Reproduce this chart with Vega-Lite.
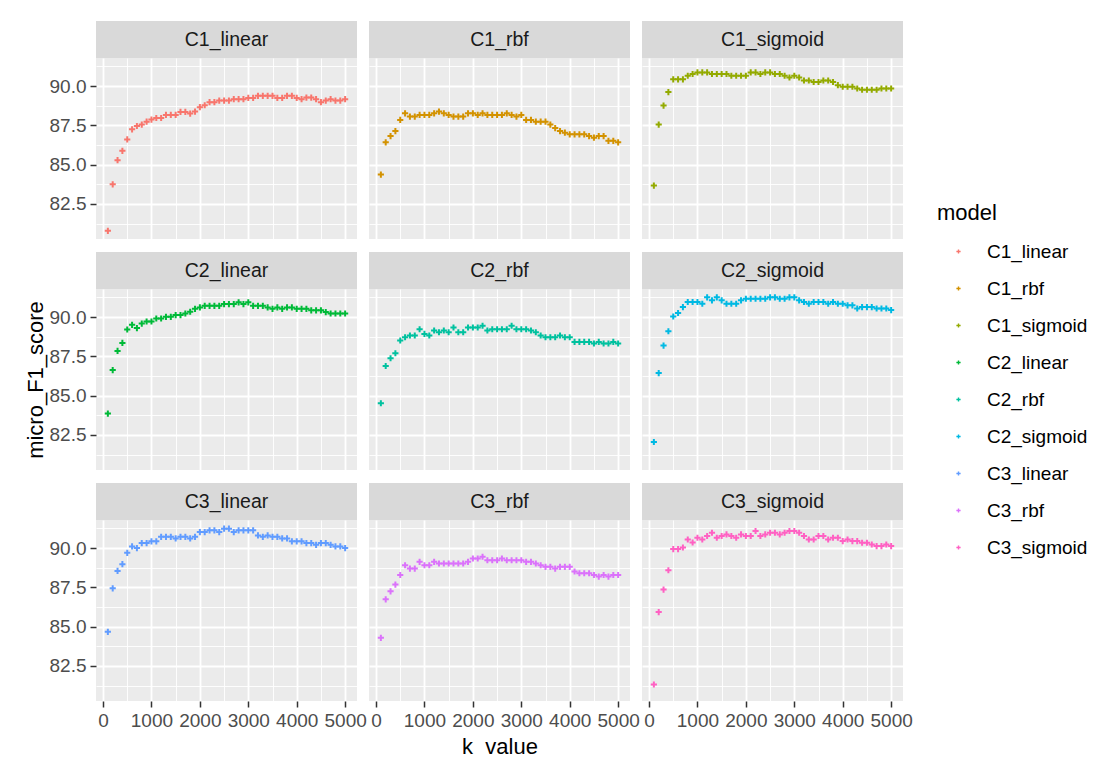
{
"$schema": "https://vega.github.io/schema/vega-lite/v6.json",
"padding": {"left": 24, "top": 21, "right": 0, "bottom": 0},
"datasets": {"scores": [
{"model":"C1_linear","k":100,"score":80.79},{"model":"C1_linear","k":200,"score":83.75},{"model":"C1_linear","k":300,"score":85.29},{"model":"C1_linear","k":400,"score":85.88},{"model":"C1_linear","k":500,"score":86.61},{"model":"C1_linear","k":600,"score":87.25},{"model":"C1_linear","k":700,"score":87.46},{"model":"C1_linear","k":800,"score":87.55},{"model":"C1_linear","k":900,"score":87.74},{"model":"C1_linear","k":1000,"score":87.87},
{"model":"C1_linear","k":1100,"score":87.97},{"model":"C1_linear","k":1200,"score":87.97},{"model":"C1_linear","k":1300,"score":88.17},{"model":"C1_linear","k":1400,"score":88.17},{"model":"C1_linear","k":1500,"score":88.17},{"model":"C1_linear","k":1600,"score":88.36},{"model":"C1_linear","k":1700,"score":88.36},{"model":"C1_linear","k":1800,"score":88.25},{"model":"C1_linear","k":1900,"score":88.38},{"model":"C1_linear","k":2000,"score":88.66},
{"model":"C1_linear","k":2100,"score":88.78},{"model":"C1_linear","k":2200,"score":88.98},{"model":"C1_linear","k":2300,"score":88.98},{"model":"C1_linear","k":2400,"score":89.08},{"model":"C1_linear","k":2500,"score":89.08},{"model":"C1_linear","k":2600,"score":89.08},{"model":"C1_linear","k":2700,"score":89.17},{"model":"C1_linear","k":2800,"score":89.17},{"model":"C1_linear","k":2900,"score":89.17},{"model":"C1_linear","k":3000,"score":89.25},
{"model":"C1_linear","k":3100,"score":89.25},{"model":"C1_linear","k":3200,"score":89.38},{"model":"C1_linear","k":3300,"score":89.38},{"model":"C1_linear","k":3400,"score":89.38},{"model":"C1_linear","k":3500,"score":89.38},{"model":"C1_linear","k":3600,"score":89.25},{"model":"C1_linear","k":3700,"score":89.25},{"model":"C1_linear","k":3800,"score":89.38},{"model":"C1_linear","k":3900,"score":89.38},{"model":"C1_linear","k":4000,"score":89.25},
{"model":"C1_linear","k":4100,"score":89.17},{"model":"C1_linear","k":4200,"score":89.27},{"model":"C1_linear","k":4300,"score":89.27},{"model":"C1_linear","k":4400,"score":89.17},{"model":"C1_linear","k":4500,"score":88.98},{"model":"C1_linear","k":4600,"score":89.08},{"model":"C1_linear","k":4700,"score":89.17},{"model":"C1_linear","k":4800,"score":89.08},{"model":"C1_linear","k":4900,"score":89.08},{"model":"C1_linear","k":5000,"score":89.17},
{"model":"C1_rbf","k":100,"score":84.37},{"model":"C1_rbf","k":200,"score":86.42},{"model":"C1_rbf","k":300,"score":86.82},{"model":"C1_rbf","k":400,"score":87.14},{"model":"C1_rbf","k":500,"score":87.85},{"model":"C1_rbf","k":600,"score":88.27},{"model":"C1_rbf","k":700,"score":88.06},{"model":"C1_rbf","k":800,"score":88.06},{"model":"C1_rbf","k":900,"score":88.17},{"model":"C1_rbf","k":1000,"score":88.17},
{"model":"C1_rbf","k":1100,"score":88.17},{"model":"C1_rbf","k":1200,"score":88.27},{"model":"C1_rbf","k":1300,"score":88.38},{"model":"C1_rbf","k":1400,"score":88.27},{"model":"C1_rbf","k":1500,"score":88.17},{"model":"C1_rbf","k":1600,"score":88.06},{"model":"C1_rbf","k":1700,"score":88.06},{"model":"C1_rbf","k":1800,"score":88.06},{"model":"C1_rbf","k":1900,"score":88.27},{"model":"C1_rbf","k":2000,"score":88.27},
{"model":"C1_rbf","k":2100,"score":88.17},{"model":"C1_rbf","k":2200,"score":88.27},{"model":"C1_rbf","k":2300,"score":88.17},{"model":"C1_rbf","k":2400,"score":88.17},{"model":"C1_rbf","k":2500,"score":88.17},{"model":"C1_rbf","k":2600,"score":88.17},{"model":"C1_rbf","k":2700,"score":88.27},{"model":"C1_rbf","k":2800,"score":88.17},{"model":"C1_rbf","k":2900,"score":88.06},{"model":"C1_rbf","k":3000,"score":88.17},
{"model":"C1_rbf","k":3100,"score":87.85},{"model":"C1_rbf","k":3200,"score":87.85},{"model":"C1_rbf","k":3300,"score":87.74},{"model":"C1_rbf","k":3400,"score":87.74},{"model":"C1_rbf","k":3500,"score":87.74},{"model":"C1_rbf","k":3600,"score":87.55},{"model":"C1_rbf","k":3700,"score":87.33},{"model":"C1_rbf","k":3800,"score":87.14},{"model":"C1_rbf","k":3900,"score":87.04},{"model":"C1_rbf","k":4000,"score":86.93},
{"model":"C1_rbf","k":4100,"score":86.93},{"model":"C1_rbf","k":4200,"score":86.93},{"model":"C1_rbf","k":4300,"score":86.93},{"model":"C1_rbf","k":4400,"score":86.82},{"model":"C1_rbf","k":4500,"score":86.72},{"model":"C1_rbf","k":4600,"score":86.82},{"model":"C1_rbf","k":4700,"score":86.82},{"model":"C1_rbf","k":4800,"score":86.52},{"model":"C1_rbf","k":4900,"score":86.52},{"model":"C1_rbf","k":5000,"score":86.42},
{"model":"C1_sigmoid","k":100,"score":83.67},{"model":"C1_sigmoid","k":200,"score":87.55},{"model":"C1_sigmoid","k":300,"score":88.76},{"model":"C1_sigmoid","k":400,"score":89.62},{"model":"C1_sigmoid","k":500,"score":90.43},{"model":"C1_sigmoid","k":600,"score":90.43},{"model":"C1_sigmoid","k":700,"score":90.43},{"model":"C1_sigmoid","k":800,"score":90.66},{"model":"C1_sigmoid","k":900,"score":90.77},{"model":"C1_sigmoid","k":1000,"score":90.87},
{"model":"C1_sigmoid","k":1100,"score":90.87},{"model":"C1_sigmoid","k":1200,"score":90.87},{"model":"C1_sigmoid","k":1300,"score":90.77},{"model":"C1_sigmoid","k":1400,"score":90.77},{"model":"C1_sigmoid","k":1500,"score":90.77},{"model":"C1_sigmoid","k":1600,"score":90.77},{"model":"C1_sigmoid","k":1700,"score":90.66},{"model":"C1_sigmoid","k":1800,"score":90.66},{"model":"C1_sigmoid","k":1900,"score":90.66},{"model":"C1_sigmoid","k":2000,"score":90.66},
{"model":"C1_sigmoid","k":2100,"score":90.87},{"model":"C1_sigmoid","k":2200,"score":90.87},{"model":"C1_sigmoid","k":2300,"score":90.77},{"model":"C1_sigmoid","k":2400,"score":90.87},{"model":"C1_sigmoid","k":2500,"score":90.87},{"model":"C1_sigmoid","k":2600,"score":90.77},{"model":"C1_sigmoid","k":2700,"score":90.77},{"model":"C1_sigmoid","k":2800,"score":90.66},{"model":"C1_sigmoid","k":2900,"score":90.55},{"model":"C1_sigmoid","k":3000,"score":90.66},
{"model":"C1_sigmoid","k":3100,"score":90.55},{"model":"C1_sigmoid","k":3200,"score":90.36},{"model":"C1_sigmoid","k":3300,"score":90.36},{"model":"C1_sigmoid","k":3400,"score":90.26},{"model":"C1_sigmoid","k":3500,"score":90.26},{"model":"C1_sigmoid","k":3600,"score":90.36},{"model":"C1_sigmoid","k":3700,"score":90.36},{"model":"C1_sigmoid","k":3800,"score":90.26},{"model":"C1_sigmoid","k":3900,"score":90.06},{"model":"C1_sigmoid","k":4000,"score":89.96},
{"model":"C1_sigmoid","k":4100,"score":89.96},{"model":"C1_sigmoid","k":4200,"score":89.96},{"model":"C1_sigmoid","k":4300,"score":89.85},{"model":"C1_sigmoid","k":4400,"score":89.77},{"model":"C1_sigmoid","k":4500,"score":89.77},{"model":"C1_sigmoid","k":4600,"score":89.77},{"model":"C1_sigmoid","k":4700,"score":89.77},{"model":"C1_sigmoid","k":4800,"score":89.85},{"model":"C1_sigmoid","k":4900,"score":89.85},{"model":"C1_sigmoid","k":5000,"score":89.85},
{"model":"C2_linear","k":100,"score":83.86},{"model":"C2_linear","k":200,"score":86.63},{"model":"C2_linear","k":300,"score":87.85},{"model":"C2_linear","k":400,"score":88.36},{"model":"C2_linear","k":500,"score":89.21},{"model":"C2_linear","k":600,"score":89.51},{"model":"C2_linear","k":700,"score":89.30},{"model":"C2_linear","k":800,"score":89.59},{"model":"C2_linear","k":900,"score":89.72},{"model":"C2_linear","k":1000,"score":89.72},
{"model":"C2_linear","k":1100,"score":89.91},{"model":"C2_linear","k":1200,"score":89.91},{"model":"C2_linear","k":1300,"score":90.02},{"model":"C2_linear","k":1400,"score":90.02},{"model":"C2_linear","k":1500,"score":90.13},{"model":"C2_linear","k":1600,"score":90.13},{"model":"C2_linear","k":1700,"score":90.23},{"model":"C2_linear","k":1800,"score":90.34},{"model":"C2_linear","k":1900,"score":90.53},{"model":"C2_linear","k":2000,"score":90.62},
{"model":"C2_linear","k":2100,"score":90.72},{"model":"C2_linear","k":2200,"score":90.72},{"model":"C2_linear","k":2300,"score":90.72},{"model":"C2_linear","k":2400,"score":90.72},{"model":"C2_linear","k":2500,"score":90.83},{"model":"C2_linear","k":2600,"score":90.83},{"model":"C2_linear","k":2700,"score":90.83},{"model":"C2_linear","k":2800,"score":90.94},{"model":"C2_linear","k":2900,"score":90.83},{"model":"C2_linear","k":3000,"score":90.94},
{"model":"C2_linear","k":3100,"score":90.72},{"model":"C2_linear","k":3200,"score":90.72},{"model":"C2_linear","k":3300,"score":90.72},{"model":"C2_linear","k":3400,"score":90.62},{"model":"C2_linear","k":3500,"score":90.53},{"model":"C2_linear","k":3600,"score":90.62},{"model":"C2_linear","k":3700,"score":90.53},{"model":"C2_linear","k":3800,"score":90.62},{"model":"C2_linear","k":3900,"score":90.62},{"model":"C2_linear","k":4000,"score":90.53},
{"model":"C2_linear","k":4100,"score":90.53},{"model":"C2_linear","k":4200,"score":90.53},{"model":"C2_linear","k":4300,"score":90.43},{"model":"C2_linear","k":4400,"score":90.43},{"model":"C2_linear","k":4500,"score":90.43},{"model":"C2_linear","k":4600,"score":90.32},{"model":"C2_linear","k":4700,"score":90.23},{"model":"C2_linear","k":4800,"score":90.23},{"model":"C2_linear","k":4900,"score":90.23},{"model":"C2_linear","k":5000,"score":90.23},
{"model":"C2_rbf","k":100,"score":84.52},{"model":"C2_rbf","k":200,"score":86.89},{"model":"C2_rbf","k":300,"score":87.38},{"model":"C2_rbf","k":400,"score":87.70},{"model":"C2_rbf","k":500,"score":88.51},{"model":"C2_rbf","k":600,"score":88.72},{"model":"C2_rbf","k":700,"score":88.83},{"model":"C2_rbf","k":800,"score":88.83},{"model":"C2_rbf","k":900,"score":89.23},{"model":"C2_rbf","k":1000,"score":88.93},
{"model":"C2_rbf","k":1100,"score":88.83},{"model":"C2_rbf","k":1200,"score":89.15},{"model":"C2_rbf","k":1300,"score":89.04},{"model":"C2_rbf","k":1400,"score":89.15},{"model":"C2_rbf","k":1500,"score":89.04},{"model":"C2_rbf","k":1600,"score":89.34},{"model":"C2_rbf","k":1700,"score":89.04},{"model":"C2_rbf","k":1800,"score":89.04},{"model":"C2_rbf","k":1900,"score":89.34},{"model":"C2_rbf","k":2000,"score":89.34},
{"model":"C2_rbf","k":2100,"score":89.34},{"model":"C2_rbf","k":2200,"score":89.45},{"model":"C2_rbf","k":2300,"score":89.15},{"model":"C2_rbf","k":2400,"score":89.23},{"model":"C2_rbf","k":2500,"score":89.23},{"model":"C2_rbf","k":2600,"score":89.23},{"model":"C2_rbf","k":2700,"score":89.23},{"model":"C2_rbf","k":2800,"score":89.45},{"model":"C2_rbf","k":2900,"score":89.23},{"model":"C2_rbf","k":3000,"score":89.23},
{"model":"C2_rbf","k":3100,"score":89.23},{"model":"C2_rbf","k":3200,"score":89.15},{"model":"C2_rbf","k":3300,"score":89.04},{"model":"C2_rbf","k":3400,"score":88.83},{"model":"C2_rbf","k":3500,"score":88.72},{"model":"C2_rbf","k":3600,"score":88.72},{"model":"C2_rbf","k":3700,"score":88.72},{"model":"C2_rbf","k":3800,"score":88.83},{"model":"C2_rbf","k":3900,"score":88.72},{"model":"C2_rbf","k":4000,"score":88.72},
{"model":"C2_rbf","k":4100,"score":88.42},{"model":"C2_rbf","k":4200,"score":88.42},{"model":"C2_rbf","k":4300,"score":88.42},{"model":"C2_rbf","k":4400,"score":88.42},{"model":"C2_rbf","k":4500,"score":88.32},{"model":"C2_rbf","k":4600,"score":88.42},{"model":"C2_rbf","k":4700,"score":88.32},{"model":"C2_rbf","k":4800,"score":88.32},{"model":"C2_rbf","k":4900,"score":88.42},{"model":"C2_rbf","k":5000,"score":88.32},
{"model":"C2_sigmoid","k":100,"score":82.05},{"model":"C2_sigmoid","k":200,"score":86.44},{"model":"C2_sigmoid","k":300,"score":88.19},{"model":"C2_sigmoid","k":400,"score":89.10},{"model":"C2_sigmoid","k":500,"score":90.04},{"model":"C2_sigmoid","k":600,"score":90.26},{"model":"C2_sigmoid","k":700,"score":90.64},{"model":"C2_sigmoid","k":800,"score":90.96},{"model":"C2_sigmoid","k":900,"score":90.96},{"model":"C2_sigmoid","k":1000,"score":90.96},
{"model":"C2_sigmoid","k":1100,"score":90.85},{"model":"C2_sigmoid","k":1200,"score":91.26},{"model":"C2_sigmoid","k":1300,"score":91.07},{"model":"C2_sigmoid","k":1400,"score":91.26},{"model":"C2_sigmoid","k":1500,"score":91.07},{"model":"C2_sigmoid","k":1600,"score":90.85},{"model":"C2_sigmoid","k":1700,"score":90.85},{"model":"C2_sigmoid","k":1800,"score":90.85},{"model":"C2_sigmoid","k":1900,"score":91.07},{"model":"C2_sigmoid","k":2000,"score":91.17},
{"model":"C2_sigmoid","k":2100,"score":91.17},{"model":"C2_sigmoid","k":2200,"score":91.17},{"model":"C2_sigmoid","k":2300,"score":91.17},{"model":"C2_sigmoid","k":2400,"score":91.17},{"model":"C2_sigmoid","k":2500,"score":91.26},{"model":"C2_sigmoid","k":2600,"score":91.26},{"model":"C2_sigmoid","k":2700,"score":91.17},{"model":"C2_sigmoid","k":2800,"score":91.17},{"model":"C2_sigmoid","k":2900,"score":91.26},{"model":"C2_sigmoid","k":3000,"score":91.26},
{"model":"C2_sigmoid","k":3100,"score":91.07},{"model":"C2_sigmoid","k":3200,"score":90.96},{"model":"C2_sigmoid","k":3300,"score":90.85},{"model":"C2_sigmoid","k":3400,"score":90.96},{"model":"C2_sigmoid","k":3500,"score":90.96},{"model":"C2_sigmoid","k":3600,"score":90.96},{"model":"C2_sigmoid","k":3700,"score":90.85},{"model":"C2_sigmoid","k":3800,"score":90.96},{"model":"C2_sigmoid","k":3900,"score":90.85},{"model":"C2_sigmoid","k":4000,"score":90.85},
{"model":"C2_sigmoid","k":4100,"score":90.75},{"model":"C2_sigmoid","k":4200,"score":90.75},{"model":"C2_sigmoid","k":4300,"score":90.55},{"model":"C2_sigmoid","k":4400,"score":90.64},{"model":"C2_sigmoid","k":4500,"score":90.64},{"model":"C2_sigmoid","k":4600,"score":90.64},{"model":"C2_sigmoid","k":4700,"score":90.55},{"model":"C2_sigmoid","k":4800,"score":90.55},{"model":"C2_sigmoid","k":4900,"score":90.55},{"model":"C2_sigmoid","k":5000,"score":90.45},
{"model":"C3_linear","k":100,"score":84.67},{"model":"C3_linear","k":200,"score":87.44},{"model":"C3_linear","k":300,"score":88.55},{"model":"C3_linear","k":400,"score":88.98},{"model":"C3_linear","k":500,"score":89.70},{"model":"C3_linear","k":600,"score":90.11},{"model":"C3_linear","k":700,"score":90.00},{"model":"C3_linear","k":800,"score":90.32},{"model":"C3_linear","k":900,"score":90.32},{"model":"C3_linear","k":1000,"score":90.43},
{"model":"C3_linear","k":1100,"score":90.43},{"model":"C3_linear","k":1200,"score":90.72},{"model":"C3_linear","k":1300,"score":90.72},{"model":"C3_linear","k":1400,"score":90.72},{"model":"C3_linear","k":1500,"score":90.62},{"model":"C3_linear","k":1600,"score":90.72},{"model":"C3_linear","k":1700,"score":90.72},{"model":"C3_linear","k":1800,"score":90.62},{"model":"C3_linear","k":1900,"score":90.72},{"model":"C3_linear","k":2000,"score":91.02},
{"model":"C3_linear","k":2100,"score":91.02},{"model":"C3_linear","k":2200,"score":91.13},{"model":"C3_linear","k":2300,"score":91.13},{"model":"C3_linear","k":2400,"score":91.02},{"model":"C3_linear","k":2500,"score":91.24},{"model":"C3_linear","k":2600,"score":91.24},{"model":"C3_linear","k":2700,"score":91.02},{"model":"C3_linear","k":2800,"score":91.13},{"model":"C3_linear","k":2900,"score":91.13},{"model":"C3_linear","k":3000,"score":91.13},
{"model":"C3_linear","k":3100,"score":91.13},{"model":"C3_linear","k":3200,"score":90.81},{"model":"C3_linear","k":3300,"score":90.72},{"model":"C3_linear","k":3400,"score":90.81},{"model":"C3_linear","k":3500,"score":90.72},{"model":"C3_linear","k":3600,"score":90.72},{"model":"C3_linear","k":3700,"score":90.62},{"model":"C3_linear","k":3800,"score":90.62},{"model":"C3_linear","k":3900,"score":90.43},{"model":"C3_linear","k":4000,"score":90.43},
{"model":"C3_linear","k":4100,"score":90.43},{"model":"C3_linear","k":4200,"score":90.32},{"model":"C3_linear","k":4300,"score":90.32},{"model":"C3_linear","k":4400,"score":90.21},{"model":"C3_linear","k":4500,"score":90.32},{"model":"C3_linear","k":4600,"score":90.32},{"model":"C3_linear","k":4700,"score":90.21},{"model":"C3_linear","k":4800,"score":90.11},{"model":"C3_linear","k":4900,"score":90.11},{"model":"C3_linear","k":5000,"score":90.00},
{"model":"C3_rbf","k":100,"score":84.29},{"model":"C3_rbf","k":200,"score":86.74},{"model":"C3_rbf","k":300,"score":87.25},{"model":"C3_rbf","k":400,"score":87.68},{"model":"C3_rbf","k":500,"score":88.29},{"model":"C3_rbf","k":600,"score":88.91},{"model":"C3_rbf","k":700,"score":88.70},{"model":"C3_rbf","k":800,"score":88.70},{"model":"C3_rbf","k":900,"score":89.13},{"model":"C3_rbf","k":1000,"score":88.91},
{"model":"C3_rbf","k":1100,"score":88.91},{"model":"C3_rbf","k":1200,"score":89.13},{"model":"C3_rbf","k":1300,"score":89.02},{"model":"C3_rbf","k":1400,"score":89.02},{"model":"C3_rbf","k":1500,"score":89.02},{"model":"C3_rbf","k":1600,"score":89.02},{"model":"C3_rbf","k":1700,"score":89.02},{"model":"C3_rbf","k":1800,"score":89.02},{"model":"C3_rbf","k":1900,"score":89.13},{"model":"C3_rbf","k":2000,"score":89.34},
{"model":"C3_rbf","k":2100,"score":89.34},{"model":"C3_rbf","k":2200,"score":89.45},{"model":"C3_rbf","k":2300,"score":89.23},{"model":"C3_rbf","k":2400,"score":89.23},{"model":"C3_rbf","k":2500,"score":89.23},{"model":"C3_rbf","k":2600,"score":89.34},{"model":"C3_rbf","k":2700,"score":89.23},{"model":"C3_rbf","k":2800,"score":89.23},{"model":"C3_rbf","k":2900,"score":89.23},{"model":"C3_rbf","k":3000,"score":89.23},
{"model":"C3_rbf","k":3100,"score":89.13},{"model":"C3_rbf","k":3200,"score":89.13},{"model":"C3_rbf","k":3300,"score":89.02},{"model":"C3_rbf","k":3400,"score":88.91},{"model":"C3_rbf","k":3500,"score":88.81},{"model":"C3_rbf","k":3600,"score":88.81},{"model":"C3_rbf","k":3700,"score":88.70},{"model":"C3_rbf","k":3800,"score":88.81},{"model":"C3_rbf","k":3900,"score":88.81},{"model":"C3_rbf","k":4000,"score":88.81},
{"model":"C3_rbf","k":4100,"score":88.51},{"model":"C3_rbf","k":4200,"score":88.40},{"model":"C3_rbf","k":4300,"score":88.40},{"model":"C3_rbf","k":4400,"score":88.40},{"model":"C3_rbf","k":4500,"score":88.29},{"model":"C3_rbf","k":4600,"score":88.19},{"model":"C3_rbf","k":4700,"score":88.29},{"model":"C3_rbf","k":4800,"score":88.19},{"model":"C3_rbf","k":4900,"score":88.29},{"model":"C3_rbf","k":5000,"score":88.29},
{"model":"C3_sigmoid","k":100,"score":81.32},{"model":"C3_sigmoid","k":200,"score":85.93},{"model":"C3_sigmoid","k":300,"score":87.36},{"model":"C3_sigmoid","k":400,"score":88.59},{"model":"C3_sigmoid","k":500,"score":89.94},{"model":"C3_sigmoid","k":600,"score":89.94},{"model":"C3_sigmoid","k":700,"score":90.04},{"model":"C3_sigmoid","k":800,"score":90.55},{"model":"C3_sigmoid","k":900,"score":90.36},{"model":"C3_sigmoid","k":1000,"score":90.66},
{"model":"C3_sigmoid","k":1100,"score":90.55},{"model":"C3_sigmoid","k":1200,"score":90.77},{"model":"C3_sigmoid","k":1300,"score":90.98},{"model":"C3_sigmoid","k":1400,"score":90.66},{"model":"C3_sigmoid","k":1500,"score":90.77},{"model":"C3_sigmoid","k":1600,"score":90.87},{"model":"C3_sigmoid","k":1700,"score":90.77},{"model":"C3_sigmoid","k":1800,"score":90.66},{"model":"C3_sigmoid","k":1900,"score":90.87},{"model":"C3_sigmoid","k":2000,"score":90.77},
{"model":"C3_sigmoid","k":2100,"score":90.77},{"model":"C3_sigmoid","k":2200,"score":91.09},{"model":"C3_sigmoid","k":2300,"score":90.77},{"model":"C3_sigmoid","k":2400,"score":90.87},{"model":"C3_sigmoid","k":2500,"score":90.98},{"model":"C3_sigmoid","k":2600,"score":90.98},{"model":"C3_sigmoid","k":2700,"score":90.87},{"model":"C3_sigmoid","k":2800,"score":90.98},{"model":"C3_sigmoid","k":2900,"score":91.09},{"model":"C3_sigmoid","k":3000,"score":91.09},
{"model":"C3_sigmoid","k":3100,"score":90.98},{"model":"C3_sigmoid","k":3200,"score":90.77},{"model":"C3_sigmoid","k":3300,"score":90.55},{"model":"C3_sigmoid","k":3400,"score":90.55},{"model":"C3_sigmoid","k":3500,"score":90.77},{"model":"C3_sigmoid","k":3600,"score":90.77},{"model":"C3_sigmoid","k":3700,"score":90.55},{"model":"C3_sigmoid","k":3800,"score":90.66},{"model":"C3_sigmoid","k":3900,"score":90.66},{"model":"C3_sigmoid","k":4000,"score":90.45},
{"model":"C3_sigmoid","k":4100,"score":90.55},{"model":"C3_sigmoid","k":4200,"score":90.45},{"model":"C3_sigmoid","k":4300,"score":90.45},{"model":"C3_sigmoid","k":4400,"score":90.34},{"model":"C3_sigmoid","k":4500,"score":90.34},{"model":"C3_sigmoid","k":4600,"score":90.23},{"model":"C3_sigmoid","k":4700,"score":90.13},{"model":"C3_sigmoid","k":4800,"score":90.13},{"model":"C3_sigmoid","k":4900,"score":90.23},{"model":"C3_sigmoid","k":5000,"score":90.13}
]},
"columns": 3,
"spacing": {"row": 13, "column": 2},
"concat": [
{"vconcat": [
 {"data": {"name": "scores"}, "transform": [{"filter": "datum.model === 'C1_linear'"}, {"aggregate": [{"op": "count", "as": "n"}], "groupby": ["model"]}], "width": 261, "height": 37, "view": {"fill": "#D9D9D9", "stroke": null}, "mark": {"type": "text", "fontSize": 19.5, "color": "#1A1A1A"}, "encoding": {"text": {"field": "model"}}},
 {"data": {"name": "scores"}, "transform": [{"filter": "datum.model === 'C1_linear'"}], "width": 261, "height": 181,
  "mark": {"type": "point", "shape": "M-1,0H1M0,-1V1", "filled": false, "strokeWidth": 2, "size": 38, "opacity": 1},
  "encoding": {
   "x": {"field": "k", "type": "quantitative", "scale": {"domain": [-145, 5245], "nice": false, "zero": false}, "axis": {"values": [0,500,1000,1500,2000,2500,3000,3500,4000,4500,5000], "labels": false, "ticks": false, "title": null, "gridWidth": {"condition": {"test": "datum.value % 1000 === 0", "value": 1.8}, "value": 0.9}}},
   "y": {"field": "score", "type": "quantitative", "scale": {"domain": [80.27, 91.79], "nice": false, "zero": false}, "axis": {"values": [81.25,82.5,83.75,85,86.25,87.5,88.75,90,91.25], "format": ".1f", "title": null, "labelExpr": "datum.value % 2.5 === 0 ? datum.label : ''", "tickOpacity": {"condition": {"test": "datum.value % 2.5 === 0", "value": 1}, "value": 0}, "gridWidth": {"condition": {"test": "datum.value % 2.5 === 0", "value": 1.8}, "value": 0.9}}},
   "color": {"field": "model", "type": "nominal", "legend": {"orient": "none", "legendX": 841, "legendY": 182, "title": "model"}}}}
 ], "spacing": 0, "bounds": "flush"},
{"vconcat": [
 {"data": {"name": "scores"}, "transform": [{"filter": "datum.model === 'C1_rbf'"}, {"aggregate": [{"op": "count", "as": "n"}], "groupby": ["model"]}], "width": 261, "height": 37, "view": {"fill": "#D9D9D9", "stroke": null}, "mark": {"type": "text", "fontSize": 19.5, "color": "#1A1A1A"}, "encoding": {"text": {"field": "model"}}},
 {"data": {"name": "scores"}, "transform": [{"filter": "datum.model === 'C1_rbf'"}], "width": 261, "height": 181,
  "mark": {"type": "point", "shape": "M-1,0H1M0,-1V1", "filled": false, "strokeWidth": 2, "size": 38, "opacity": 1},
  "encoding": {
   "x": {"field": "k", "type": "quantitative", "scale": {"domain": [-145, 5245], "nice": false, "zero": false}, "axis": {"values": [0,500,1000,1500,2000,2500,3000,3500,4000,4500,5000], "labels": false, "ticks": false, "title": null, "gridWidth": {"condition": {"test": "datum.value % 1000 === 0", "value": 1.8}, "value": 0.9}}},
   "y": {"field": "score", "type": "quantitative", "scale": {"domain": [80.27, 91.79], "nice": false, "zero": false}, "axis": {"values": [81.25,82.5,83.75,85,86.25,87.5,88.75,90,91.25], "labels": false, "ticks": false, "title": null, "gridWidth": {"condition": {"test": "datum.value % 2.5 === 0", "value": 1.8}, "value": 0.9}}},
   "color": {"field": "model", "type": "nominal", "legend": {"orient": "none", "legendX": 841, "legendY": 182, "title": "model"}}}}
 ], "spacing": 0, "bounds": "flush"},
{"vconcat": [
 {"data": {"name": "scores"}, "transform": [{"filter": "datum.model === 'C1_sigmoid'"}, {"aggregate": [{"op": "count", "as": "n"}], "groupby": ["model"]}], "width": 261, "height": 37, "view": {"fill": "#D9D9D9", "stroke": null}, "mark": {"type": "text", "fontSize": 19.5, "color": "#1A1A1A"}, "encoding": {"text": {"field": "model"}}},
 {"data": {"name": "scores"}, "transform": [{"filter": "datum.model === 'C1_sigmoid'"}], "width": 261, "height": 181,
  "mark": {"type": "point", "shape": "M-1,0H1M0,-1V1", "filled": false, "strokeWidth": 2, "size": 38, "opacity": 1},
  "encoding": {
   "x": {"field": "k", "type": "quantitative", "scale": {"domain": [-145, 5245], "nice": false, "zero": false}, "axis": {"values": [0,500,1000,1500,2000,2500,3000,3500,4000,4500,5000], "labels": false, "ticks": false, "title": null, "gridWidth": {"condition": {"test": "datum.value % 1000 === 0", "value": 1.8}, "value": 0.9}}},
   "y": {"field": "score", "type": "quantitative", "scale": {"domain": [80.27, 91.79], "nice": false, "zero": false}, "axis": {"values": [81.25,82.5,83.75,85,86.25,87.5,88.75,90,91.25], "labels": false, "ticks": false, "title": null, "gridWidth": {"condition": {"test": "datum.value % 2.5 === 0", "value": 1.8}, "value": 0.9}}},
   "color": {"field": "model", "type": "nominal", "legend": {"orient": "none", "legendX": 841, "legendY": 182, "title": "model"}}}}
 ], "spacing": 0, "bounds": "flush"},
{"vconcat": [
 {"data": {"name": "scores"}, "transform": [{"filter": "datum.model === 'C2_linear'"}, {"aggregate": [{"op": "count", "as": "n"}], "groupby": ["model"]}], "width": 261, "height": 37, "view": {"fill": "#D9D9D9", "stroke": null}, "mark": {"type": "text", "fontSize": 19.5, "color": "#1A1A1A"}, "encoding": {"text": {"field": "model"}}},
 {"data": {"name": "scores"}, "transform": [{"filter": "datum.model === 'C2_linear'"}], "width": 261, "height": 181,
  "mark": {"type": "point", "shape": "M-1,0H1M0,-1V1", "filled": false, "strokeWidth": 2, "size": 38, "opacity": 1},
  "encoding": {
   "x": {"field": "k", "type": "quantitative", "scale": {"domain": [-145, 5245], "nice": false, "zero": false}, "axis": {"values": [0,500,1000,1500,2000,2500,3000,3500,4000,4500,5000], "labels": false, "ticks": false, "title": null, "gridWidth": {"condition": {"test": "datum.value % 1000 === 0", "value": 1.8}, "value": 0.9}}},
   "y": {"field": "score", "type": "quantitative", "scale": {"domain": [80.27, 91.79], "nice": false, "zero": false}, "axis": {"values": [81.25,82.5,83.75,85,86.25,87.5,88.75,90,91.25], "format": ".1f", "title": "micro_F1_score", "labelExpr": "datum.value % 2.5 === 0 ? datum.label : ''", "tickOpacity": {"condition": {"test": "datum.value % 2.5 === 0", "value": 1}, "value": 0}, "gridWidth": {"condition": {"test": "datum.value % 2.5 === 0", "value": 1.8}, "value": 0.9}}},
   "color": {"field": "model", "type": "nominal", "legend": {"orient": "none", "legendX": 841, "legendY": 182, "title": "model"}}}}
 ], "spacing": 0, "bounds": "flush"},
{"vconcat": [
 {"data": {"name": "scores"}, "transform": [{"filter": "datum.model === 'C2_rbf'"}, {"aggregate": [{"op": "count", "as": "n"}], "groupby": ["model"]}], "width": 261, "height": 37, "view": {"fill": "#D9D9D9", "stroke": null}, "mark": {"type": "text", "fontSize": 19.5, "color": "#1A1A1A"}, "encoding": {"text": {"field": "model"}}},
 {"data": {"name": "scores"}, "transform": [{"filter": "datum.model === 'C2_rbf'"}], "width": 261, "height": 181,
  "mark": {"type": "point", "shape": "M-1,0H1M0,-1V1", "filled": false, "strokeWidth": 2, "size": 38, "opacity": 1},
  "encoding": {
   "x": {"field": "k", "type": "quantitative", "scale": {"domain": [-145, 5245], "nice": false, "zero": false}, "axis": {"values": [0,500,1000,1500,2000,2500,3000,3500,4000,4500,5000], "labels": false, "ticks": false, "title": null, "gridWidth": {"condition": {"test": "datum.value % 1000 === 0", "value": 1.8}, "value": 0.9}}},
   "y": {"field": "score", "type": "quantitative", "scale": {"domain": [80.27, 91.79], "nice": false, "zero": false}, "axis": {"values": [81.25,82.5,83.75,85,86.25,87.5,88.75,90,91.25], "labels": false, "ticks": false, "title": null, "gridWidth": {"condition": {"test": "datum.value % 2.5 === 0", "value": 1.8}, "value": 0.9}}},
   "color": {"field": "model", "type": "nominal", "legend": {"orient": "none", "legendX": 841, "legendY": 182, "title": "model"}}}}
 ], "spacing": 0, "bounds": "flush"},
{"vconcat": [
 {"data": {"name": "scores"}, "transform": [{"filter": "datum.model === 'C2_sigmoid'"}, {"aggregate": [{"op": "count", "as": "n"}], "groupby": ["model"]}], "width": 261, "height": 37, "view": {"fill": "#D9D9D9", "stroke": null}, "mark": {"type": "text", "fontSize": 19.5, "color": "#1A1A1A"}, "encoding": {"text": {"field": "model"}}},
 {"data": {"name": "scores"}, "transform": [{"filter": "datum.model === 'C2_sigmoid'"}], "width": 261, "height": 181,
  "mark": {"type": "point", "shape": "M-1,0H1M0,-1V1", "filled": false, "strokeWidth": 2, "size": 38, "opacity": 1},
  "encoding": {
   "x": {"field": "k", "type": "quantitative", "scale": {"domain": [-145, 5245], "nice": false, "zero": false}, "axis": {"values": [0,500,1000,1500,2000,2500,3000,3500,4000,4500,5000], "labels": false, "ticks": false, "title": null, "gridWidth": {"condition": {"test": "datum.value % 1000 === 0", "value": 1.8}, "value": 0.9}}},
   "y": {"field": "score", "type": "quantitative", "scale": {"domain": [80.27, 91.79], "nice": false, "zero": false}, "axis": {"values": [81.25,82.5,83.75,85,86.25,87.5,88.75,90,91.25], "labels": false, "ticks": false, "title": null, "gridWidth": {"condition": {"test": "datum.value % 2.5 === 0", "value": 1.8}, "value": 0.9}}},
   "color": {"field": "model", "type": "nominal", "legend": {"orient": "none", "legendX": 841, "legendY": 182, "title": "model"}}}}
 ], "spacing": 0, "bounds": "flush"},
{"vconcat": [
 {"data": {"name": "scores"}, "transform": [{"filter": "datum.model === 'C3_linear'"}, {"aggregate": [{"op": "count", "as": "n"}], "groupby": ["model"]}], "width": 261, "height": 37, "view": {"fill": "#D9D9D9", "stroke": null}, "mark": {"type": "text", "fontSize": 19.5, "color": "#1A1A1A"}, "encoding": {"text": {"field": "model"}}},
 {"data": {"name": "scores"}, "transform": [{"filter": "datum.model === 'C3_linear'"}], "width": 261, "height": 181,
  "mark": {"type": "point", "shape": "M-1,0H1M0,-1V1", "filled": false, "strokeWidth": 2, "size": 38, "opacity": 1},
  "encoding": {
   "x": {"field": "k", "type": "quantitative", "scale": {"domain": [-145, 5245], "nice": false, "zero": false}, "axis": {"values": [0,500,1000,1500,2000,2500,3000,3500,4000,4500,5000], "format": "d", "title": null, "labelExpr": "datum.value % 1000 === 0 ? datum.label : ''", "tickOpacity": {"condition": {"test": "datum.value % 1000 === 0", "value": 1}, "value": 0}, "gridWidth": {"condition": {"test": "datum.value % 1000 === 0", "value": 1.8}, "value": 0.9}}},
   "y": {"field": "score", "type": "quantitative", "scale": {"domain": [80.27, 91.79], "nice": false, "zero": false}, "axis": {"values": [81.25,82.5,83.75,85,86.25,87.5,88.75,90,91.25], "format": ".1f", "title": null, "labelExpr": "datum.value % 2.5 === 0 ? datum.label : ''", "tickOpacity": {"condition": {"test": "datum.value % 2.5 === 0", "value": 1}, "value": 0}, "gridWidth": {"condition": {"test": "datum.value % 2.5 === 0", "value": 1.8}, "value": 0.9}}},
   "color": {"field": "model", "type": "nominal", "legend": {"orient": "none", "legendX": 841, "legendY": 182, "title": "model"}}}}
 ], "spacing": 0, "bounds": "flush"},
{"vconcat": [
 {"data": {"name": "scores"}, "transform": [{"filter": "datum.model === 'C3_rbf'"}, {"aggregate": [{"op": "count", "as": "n"}], "groupby": ["model"]}], "width": 261, "height": 37, "view": {"fill": "#D9D9D9", "stroke": null}, "mark": {"type": "text", "fontSize": 19.5, "color": "#1A1A1A"}, "encoding": {"text": {"field": "model"}}},
 {"data": {"name": "scores"}, "transform": [{"filter": "datum.model === 'C3_rbf'"}], "width": 261, "height": 181,
  "mark": {"type": "point", "shape": "M-1,0H1M0,-1V1", "filled": false, "strokeWidth": 2, "size": 38, "opacity": 1},
  "encoding": {
   "x": {"field": "k", "type": "quantitative", "scale": {"domain": [-145, 5245], "nice": false, "zero": false}, "axis": {"values": [0,500,1000,1500,2000,2500,3000,3500,4000,4500,5000], "format": "d", "title": "k_value", "titlePadding": 6, "labelExpr": "datum.value % 1000 === 0 ? datum.label : ''", "tickOpacity": {"condition": {"test": "datum.value % 1000 === 0", "value": 1}, "value": 0}, "gridWidth": {"condition": {"test": "datum.value % 1000 === 0", "value": 1.8}, "value": 0.9}}},
   "y": {"field": "score", "type": "quantitative", "scale": {"domain": [80.27, 91.79], "nice": false, "zero": false}, "axis": {"values": [81.25,82.5,83.75,85,86.25,87.5,88.75,90,91.25], "labels": false, "ticks": false, "title": null, "gridWidth": {"condition": {"test": "datum.value % 2.5 === 0", "value": 1.8}, "value": 0.9}}},
   "color": {"field": "model", "type": "nominal", "legend": {"orient": "none", "legendX": 841, "legendY": 182, "title": "model"}}}}
 ], "spacing": 0, "bounds": "flush"},
{"vconcat": [
 {"data": {"name": "scores"}, "transform": [{"filter": "datum.model === 'C3_sigmoid'"}, {"aggregate": [{"op": "count", "as": "n"}], "groupby": ["model"]}], "width": 261, "height": 37, "view": {"fill": "#D9D9D9", "stroke": null}, "mark": {"type": "text", "fontSize": 19.5, "color": "#1A1A1A"}, "encoding": {"text": {"field": "model"}}},
 {"data": {"name": "scores"}, "transform": [{"filter": "datum.model === 'C3_sigmoid'"}], "width": 261, "height": 181,
  "mark": {"type": "point", "shape": "M-1,0H1M0,-1V1", "filled": false, "strokeWidth": 2, "size": 38, "opacity": 1},
  "encoding": {
   "x": {"field": "k", "type": "quantitative", "scale": {"domain": [-145, 5245], "nice": false, "zero": false}, "axis": {"values": [0,500,1000,1500,2000,2500,3000,3500,4000,4500,5000], "format": "d", "title": null, "labelExpr": "datum.value % 1000 === 0 ? datum.label : ''", "tickOpacity": {"condition": {"test": "datum.value % 1000 === 0", "value": 1}, "value": 0}, "gridWidth": {"condition": {"test": "datum.value % 1000 === 0", "value": 1.8}, "value": 0.9}}},
   "y": {"field": "score", "type": "quantitative", "scale": {"domain": [80.27, 91.79], "nice": false, "zero": false}, "axis": {"values": [81.25,82.5,83.75,85,86.25,87.5,88.75,90,91.25], "labels": false, "ticks": false, "title": null, "gridWidth": {"condition": {"test": "datum.value % 2.5 === 0", "value": 1.8}, "value": 0.9}}},
   "color": {"field": "model", "type": "nominal", "legend": {"orient": "none", "legendX": 841, "legendY": 182, "title": "model"}}}}
 ], "spacing": 0, "bounds": "flush"}
],
"resolve": {"scale": {"color": "shared"}, "legend": {"color": "shared"}},
"config": {
 "font": "Liberation Sans",
 "view": {"fill": "#EBEBEB", "stroke": null},
 "range": {"category": ["#F8766D", "#D39200", "#93AA00", "#00BA38", "#00C19F", "#00B9E3", "#619CFF", "#DB72FB", "#FF61C3"]},
 "axis": {"domain": false, "grid": true, "gridColor": "#FFFFFF", "gridOpacity": 1, "tickColor": "#333333", "tickSize": 6, "tickWidth": 1.5, "labelColor": "#4D4D4D", "labelFont": "Liberation Sans", "labelFontSize": 19, "labelPadding": 4, "labelOverlap": false, "labelFlush": false, "titleFont": "Liberation Sans", "titleFontSize": 22, "titleFontWeight": "normal", "titleColor": "#000000", "titlePadding": 2},
 "legend": {"titleFont": "Liberation Sans", "titleFontSize": 22, "titleFontWeight": "normal", "titleColor": "#000000", "titlePadding": 17, "labelFont": "Liberation Sans", "labelFontSize": 19, "labelColor": "#000000", "symbolType": "M-1,0H1M0,-1V1", "symbolSize": 18, "symbolStrokeWidth": 1.4, "symbolOffset": 12, "labelOffset": 19, "rowPadding": 17}
}
}
